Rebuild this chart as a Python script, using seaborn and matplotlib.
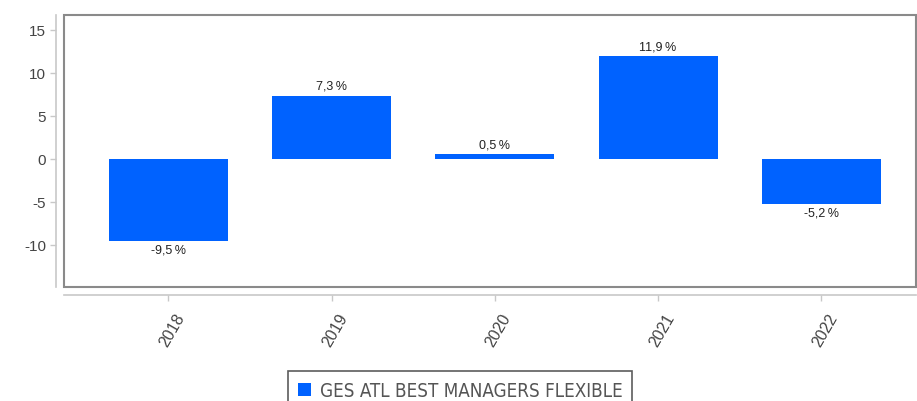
import matplotlib
matplotlib.use("Agg")
import matplotlib.pyplot as plt
import matplotlib.patches as mpatches
import matplotlib.transforms as mtransforms
import seaborn as sns
import pandas as pd

years = ["2018", "2019", "2020", "2021", "2022"]
returns = [-9.5, 7.3, 0.5, 11.9, -5.2]
series_name = "GES ATL BEST MANAGERS FLEXIBLE"
y_ticks = [-10, -5, 0, 5, 10, 15]

sns.set_theme(style="white")
plt.rcParams["font.family"] = ["Liberation Sans", "DejaVu Sans"]
plt.rcParams["axes.unicode_minus"] = False

df = pd.DataFrame({"year": years, "ret": returns})
bar_color = "#0062FF"

fig = plt.figure(figsize=(9.17, 4.02), dpi=100)
ax = fig.add_axes([0.0698, 0.2836, 0.9291, 0.6766])

sns.barplot(data=df, x="year", y="ret", color=bar_color, saturation=1,
            width=0.73, ax=ax, edgecolor="none")

ax.set_xlim(-0.64, 4.58)
ax.set_ylim(-14.9, 16.7)
ax.set_yticks(y_ticks)
ax.set_xlabel("")
ax.set_ylabel("")

# value labels
for patch, v in zip(ax.patches, returns):
    x = patch.get_x() + patch.get_width() / 2
    txt = f"{v:.1f}".replace(".", ",") + "\u2009%"
    if v >= 0:
        ax.annotate(txt, (x, v), xytext=(0, 3), textcoords="offset points",
                    ha="center", va="bottom", fontsize=9, color="#222222")
    else:
        ax.annotate(txt, (x, v), xytext=(0, -2), textcoords="offset points",
                    ha="center", va="top", fontsize=9, color="#222222")

# detached axis lines
for side in ("top", "right"):
    ax.spines[side].set_visible(False)
for side in ("left", "bottom"):
    ax.spines[side].set_position(("outward", 6))
    ax.spines[side].set_color("#c8c8c8")
    ax.spines[side].set_linewidth(1.2)

# plot frame
ax.add_patch(mpatches.Rectangle((0, 0), 1, 1, transform=ax.transAxes,
                                fill=False, edgecolor="#8a8a8a", linewidth=1.5,
                                clip_on=False, zorder=5))

ax.tick_params(axis="both", which="both", length=4, width=1, color="#c8c8c8",
               labelcolor="#444444", left=True, bottom=True)
ax.tick_params(axis="y", pad=3, labelsize=11)
ax.tick_params(axis="x", pad=4, labelsize=11.5)
shift = mtransforms.ScaledTranslation(6 / 100, -4 / 100, fig.dpi_scale_trans)
for lbl in ax.get_xticklabels():
    lbl.set_rotation(60)
    lbl.set_ha("right")
    lbl.set_rotation_mode("anchor")
    lbl.set_transform(lbl.get_transform() + shift)

handle = mpatches.Patch(facecolor=bar_color, edgecolor="none", label=series_name)
leg = fig.legend(handles=[handle], loc="upper center",
                 bbox_to_anchor=(0.502, 0.074), frameon=True, fancybox=False,
                 handlelength=0.7, handleheight=0.7, handletextpad=0.5,
                 borderpad=0.5, borderaxespad=0,
                 prop={"family": "DejaVu Sans", "stretch": "condensed", "size": 13.5})
leg.get_frame().set_edgecolor("#333333")
leg.get_frame().set_linewidth(1.2)
for t in leg.get_texts():
    t.set_color("#555555")

fig.savefig("out.png", dpi=100)
